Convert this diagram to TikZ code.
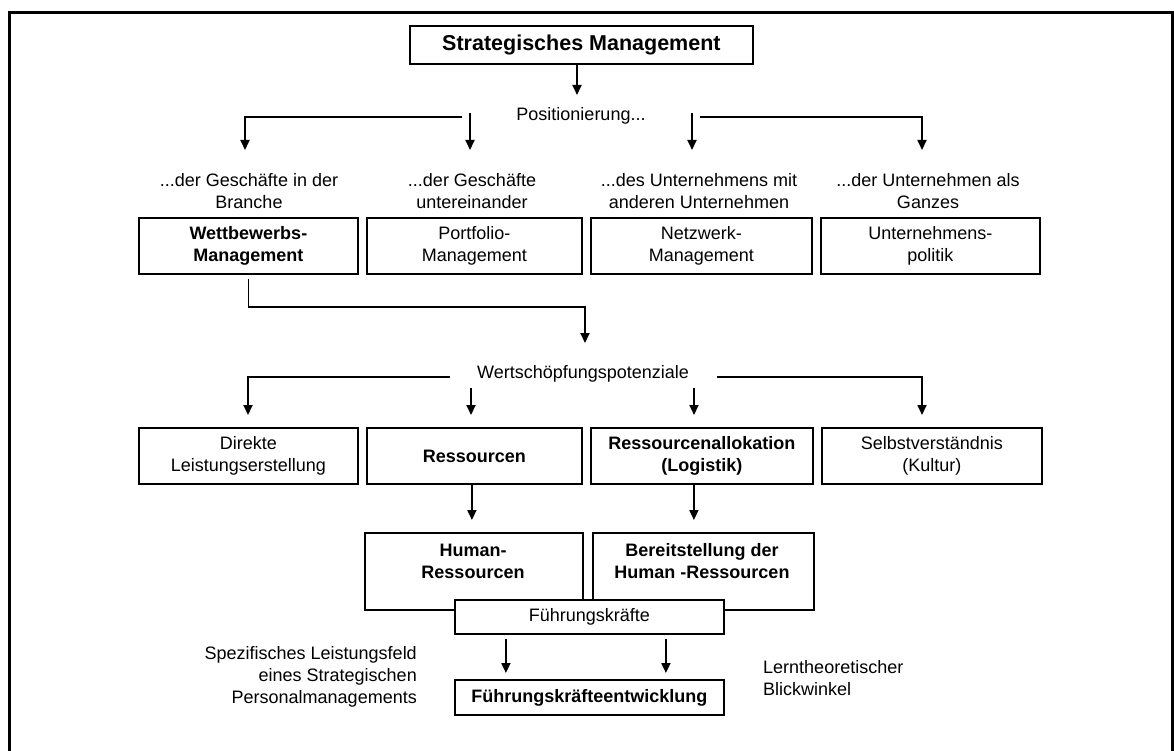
\documentclass[tikz,border=0pt]{standalone}
\usepackage{fontspec}
\setmainfont{Liberation Sans}
\usetikzlibrary{arrows.meta,calc}
\begin{document}
\begin{tikzpicture}[x=1pt,y=-1pt,
  font=\fontsize{18}{22}\selectfont,
  box/.style={draw, line width=1.8pt, rectangle, inner sep=0pt, align=center, anchor=north west},
  txt/.style={align=center, inner sep=0pt},
  bf/.style={font=\fontsize{18}{22}\selectfont\bfseries},
  arr/.style={line width=1.8pt, -{Triangle[length=10pt,width=9pt]}},
  ln/.style={line width=1.8pt},
]
\useasboundingbox (0,0) rectangle (1174,751);

% outer frame (open at the bottom)
\draw[line width=3pt] (9,751) -- (9,13) -- (1172,13) -- (1172,751);

% top level
\node[box, minimum width=343, minimum height=38, font=\fontsize{21.5}{26}\selectfont\bfseries] (sm) at (409,25) {Strategisches Management};
\coordinate (p0) at (577,95);
\draw[arr] (sm.south -| p0) -- (p0);
\node[txt] (pos) at (581,116) {Positionierung...};

% branches of the positioning
\coordinate (ha) at (462,117);
\coordinate (hb) at (700,117);
\coordinate (a1) at (245,150);
\coordinate (a2) at (470,150);
\coordinate (a3) at (692,150);
\coordinate (a4) at (922,150);
\coordinate (s2) at (470,113);
\coordinate (s3) at (692,113);
\draw[arr] (ha) -| (a1);
\draw[arr] (s2) -- (a2);
\draw[arr] (s3) -- (a3);
\draw[arr] (hb) -| (a4);

\node[txt] (t1) at (249,191) {...der Geschäfte in der\\Branche};
\node[txt] (t2) at (472,191) {...der Geschäfte\\untereinander};
\node[txt] (t3) at (699,191) {...des Unternehmens mit\\anderen Unternehmen};
\node[txt] (t4) at (928,191) {...der Unternehmen als\\Ganzes};

% first row of boxes
\node[box, bf, minimum width=219, minimum height=56] (wm) at (138,217) {Wettbewerbs-\\Management};
\node[box, minimum width=215, minimum height=56] (pm) at (366,217) {Portfolio-\\Management};
\node[box, minimum width=221, minimum height=56] (nm) at (590,217) {Netzwerk-\\Management};
\node[box, minimum width=219, minimum height=56] (up) at (820,217) {Unternehmens-\\politik};

% link to the value potentials
\coordinate (wc) at (585,307);
\coordinate (w0) at (585,343);
\draw[arr, shorten <=4pt] (wm.south) |- (wc) -- (w0);
\node[txt] (wp) at (583,374) {Wertschöpfungspotenziale};

\coordinate (la) at (450,377);
\coordinate (lb) at (717,377);
\coordinate (b1) at (248,415);
\coordinate (b2) at (471,415);
\coordinate (b3) at (694,415);
\coordinate (b4) at (922,415);
\coordinate (r2) at (471,388);
\coordinate (r3) at (694,388);
\draw[arr] (la) -| (b1);
\draw[arr] (r2) -- (b2);
\draw[arr] (r3) -- (b3);
\draw[arr] (lb) -| (b4);

% second row of boxes
\node[box, minimum width=219, minimum height=56] (dl) at (138,427) {Direkte\\Leistungserstellung};
\node[box, bf, minimum width=215, minimum height=56] (rs) at (366,427) {Ressourcen};
\node[box, bf, minimum width=222, minimum height=56] (ra) at (590,427) {Ressourcenallokation\\(Logistik)};
\node[box, minimum width=220, minimum height=56] (sv) at (821,427) {Selbstverständnis\\(Kultur)};

% third row
\node[box, minimum width=218, minimum height=77] (hr) at (364,532) {};
\node[txt, bf] (hrt) at (473,561) {Human-\\Ressourcen};
\node[box, minimum width=221, minimum height=77] (br) at (592,532) {};
\node[txt, bf] (brt) at (702,561) {Bereitstellung der\\Human -Ressourcen};

\draw[arr, shorten >=12pt] ($(rs.south)+(-2.5,0)$) -- ($(hr.north)+(-2,0)$);
\draw[arr, shorten >=12pt] ($(ra.south)+(-8,0)$) -- ($(br.north)+(-9.5,0)$);

% executives
\node[box, fill=white, minimum width=269, minimum height=34] (fk) at (454,599) {Führungskräfte};
\node[box, bf, minimum width=269, minimum height=35] (fe) at (454,679) {Führungskräfteentwicklung};

\draw[arr, shorten <=4pt, shorten >=6pt] ($(fk.south)+(-83.5,0)$) -- ($(fe.north)+(-83.5,0)$);
\draw[arr, shorten <=4pt, shorten >=6pt] ($(fk.south)+(76.5,0)$) -- ($(fe.north)+(76.5,0)$);

% side notes
\node[txt, align=right, anchor=east] (sp) at (417,677) {Spezifisches Leistungsfeld\\eines Strategischen\\Personalmanagements};
\node[txt, align=left, anchor=west] (lt) at (763,678) {Lerntheoretischer\\Blickwinkel};
\end{tikzpicture}
\end{document}
